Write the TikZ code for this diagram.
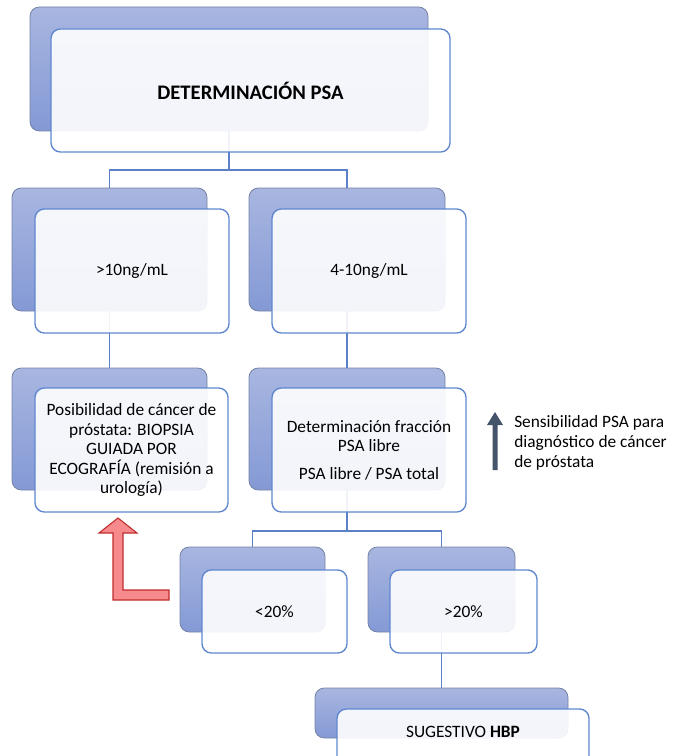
\documentclass[tikz,border=0pt]{standalone}
\usepackage{fontspec}
\setmainfont{Carlito}
\definecolor{backtop}{RGB}{168,182,224}
\definecolor{backbot}{RGB}{132,153,213}
\definecolor{backline}{RGB}{115,130,165}
\definecolor{frontline}{RGB}{95,135,208}
\definecolor{linkcol}{RGB}{92,128,200}
\definecolor{redfill}{RGB}{247,138,140}
\definecolor{redline}{RGB}{192,45,45}
\definecolor{slate}{RGB}{68,84,106}
\newcommand\pxw{0.75pt}
\newcommand\bodyfont{\fontsize{13}{14.6}\selectfont}
\begin{document}
\begin{tikzpicture}[x=0.75pt,y=-0.75pt,
  backbox/.style={rounded corners=7pt, draw=backline, line width=0.6pt, top color=backtop, bottom color=backbot, inner sep=0pt},
  frontbox/.style={rounded corners=7pt, draw=frontline, line width=1pt, fill=white, fill opacity=0.9, text opacity=1, inner sep=0pt, align=center, font=\bodyfont},
  link/.style={draw=linkcol, line width=1pt},
  bodytext/.style={font=\bodyfont, align=center, inner sep=0pt}
]
\useasboundingbox (0,0) rectangle (672,756);
\clip (0,0) rectangle (672,756);
% back boxes
\node[backbox, minimum width=398*\pxw, minimum height=124*\pxw] (b1) at (229,69) {};
\node[backbox, minimum width=195*\pxw, minimum height=123*\pxw] (b2a) at (109.5,249.5) {};
\node[backbox, minimum width=196*\pxw, minimum height=123*\pxw] (b2b) at (347,249.5) {};
\node[backbox, minimum width=195*\pxw, minimum height=122*\pxw] (b3a) at (109.5,429) {};
\node[backbox, minimum width=196*\pxw, minimum height=122*\pxw] (b3b) at (347,429) {};
\node[backbox, minimum width=145*\pxw, minimum height=85*\pxw] (b4a) at (252.5,589.5) {};
\node[backbox, minimum width=147*\pxw, minimum height=85*\pxw] (b4b) at (441.5,589.5) {};
\node[backbox, minimum width=253*\pxw, minimum height=50*\pxw] (b5) at (441.5,713) {};
% connectors
\coordinate (j1) at (229,170);
\coordinate (j2) at (347,531);
\draw[link] (b1.south) -- (j1) -| (b2a.north);
\draw[link] (j1) -| (b2b.north);
\draw[link] (b2a.south) -- (b3a.north);
\draw[link] (b2b.south) -- (b3b.north);
\draw[link] (b3b.south) -- (j2) -| (b4a.north);
\draw[link] (j2) -| (b4b.north);
\draw[link] (b4b.south) -- (b5.north);
% front boxes
\node[frontbox, minimum width=399*\pxw, minimum height=123*\pxw, font=\fontsize{15.5}{18}\selectfont\bfseries] (f1) at (250.5,90.5) {DETERMINACIÓN PSA};
\node[frontbox, minimum width=194*\pxw, minimum height=124*\pxw] (f2a) at (132,271) {>10ng/mL};
\node[frontbox, minimum width=194*\pxw, minimum height=124*\pxw] (f2b) at (369,271) {4-10ng/mL};
\node[frontbox, minimum width=193*\pxw, minimum height=124*\pxw] (f3a) at (131.5,450) {Posibilidad de cáncer de\\próstata: BIOPSIA\\GUIADA POR\\ECOGRAFÍA (remisión a\\urología)};
\node[frontbox, minimum width=194*\pxw, minimum height=124*\pxw] (f3b) at (369,450) {Determinación fracción\\PSA libre\\[6pt]PSA libre / PSA total};
\node[frontbox, minimum width=145*\pxw, minimum height=83*\pxw] (f4a) at (274.5,611.5) {<20\%};
\node[frontbox, minimum width=147*\pxw, minimum height=83*\pxw] (f4b) at (463.5,611.5) {>20\%};
\node[frontbox, minimum width=252*\pxw, minimum height=91*\pxw] (f5) at (463,754.5) {};
\node[bodytext] (t5) at (463,732) {SUGESTIVO \textbf{HBP}};
% red L-shaped arrow
\draw[fill=redfill, draw=redline, line width=0.8pt, line join=miter]
  (113,600) -- (113,533) -- (99,533) -- (118,518) -- (137,533) -- (123,533)
  -- (123,590) -- (169,590) -- (169,600) -- cycle;
% dark up arrow
\fill[slate] (492.5,470) -- (492.5,425) -- (487,425) -- (495,412) -- (503,425) -- (497.5,425) -- (497.5,470) -- cycle;
\node[anchor=west, align=left, inner sep=0pt, font=\fontsize{13}{15}\selectfont] (sens) at (514,443) {Sensibilidad PSA para\\diagnóstico de cáncer\\de próstata};
\end{tikzpicture}
\end{document}
